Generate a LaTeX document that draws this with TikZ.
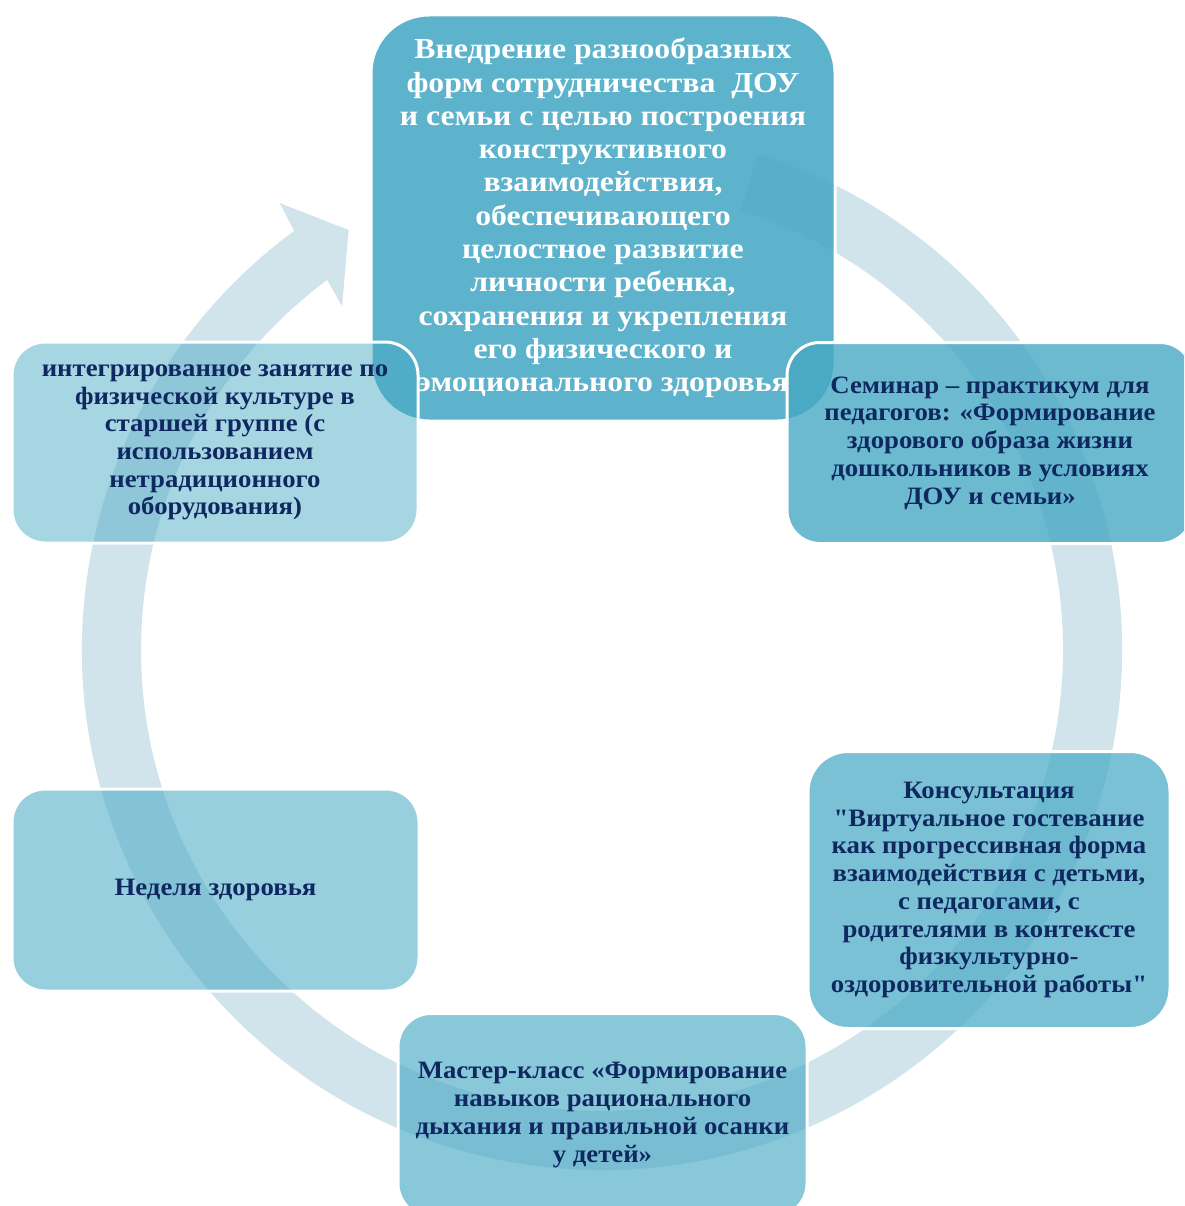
\documentclass[tikz,border=0pt]{standalone}
\usepackage{fontspec}
\newfontfamily\tnrA{Liberation Serif}[FakeStretch=1.095]
\newfontfamily\tnrB{Liberation Serif}[FakeStretch=1.07]
\begin{document}
\begin{tikzpicture}[x=1pt,y=1pt]
\definecolor{ringc}{HTML}{D1E3EB}
\definecolor{boxc}{HTML}{45A8C4}
\definecolor{navy}{HTML}{0F2860}
\tikzset{
 card/.style={draw=white, line width=3pt, fill=boxc, rounded corners=33pt,
   minimum width=406pt, minimum height=201pt, align=center,
   font=\tnrB\bfseries\fontsize{25}{27.7}\selectfont, text=navy, text opacity=1, inner sep=0pt},
 ring/.style={fill=ringc}
}
\useasboundingbox (0,0) rectangle (1184,-1206);
\clip (0,0) rectangle (1184,-1206);
\fill[white] (0,0) rectangle (1184,-1206);
\begin{scope}[shift={(602,-650)}]
\fill[ring] (72.5:520) arc[start angle=72.5, end angle=-233.7, radius=520]
  -- (125.8:551) -- (121.1:490.5) -- (127.1:431) -- (126.6:461)
  arc[start angle=-233.4, end angle=72.5, radius=461] -- cycle;
\end{scope}
\node[card, fill opacity=0.87, rounded corners=58pt, minimum width=464pt, minimum height=406pt,
  text=white, font=\tnrA\bfseries\fontsize{29}{33.3}\selectfont] (goal) at (603,-218)
 {Внедрение разнообразных\\форм\ сотрудничества\ \ ДОУ\\и семьи с целью построения\\конструктивного\\взаимодействия,\\обеспечивающего\\целостное развитие\\личности ребенка,\\сохранения и укрепления\\его физического и\\эмоционального здоровья};
\node[card, fill opacity=0.79] (seminar) at (990,-443)
 {Семинар – практикум для\\педагогов: «Формирование\\здорового образа жизни\\дошкольников в условиях\\ДОУ и семьи»};
\node[card, fill opacity=0.71, minimum width=362pt, minimum height=277pt, rounded corners=40pt] (consult) at (989,-890)
 {Консультация\\"Виртуальное гостевание\\как прогрессивная форма\\взаимодействия с детьми,\\с педагогами, с\\родителями в контексте\\физкультурно-\\оздоровительной работы"};
\node[card, fill opacity=0.63, minimum width=409pt, minimum height=203pt] (master) at (602.5,-1115)
 {Мастер-класс «Формирование\\навыков рационального\\дыхания и правильной осанки\\у детей»};
\node[card, fill opacity=0.55, minimum width=407pt, minimum height=202pt] (week) at (215.5,-890)
 {Неделя здоровья};
\node[card, fill opacity=0.47] (integ) at (215,-442.5)
 {интегрированное занятие по\\физической культуре в\\старшей группе (с\\использованием\\нетрадиционного\\оборудования)};
\end{tikzpicture}
\end{document}
